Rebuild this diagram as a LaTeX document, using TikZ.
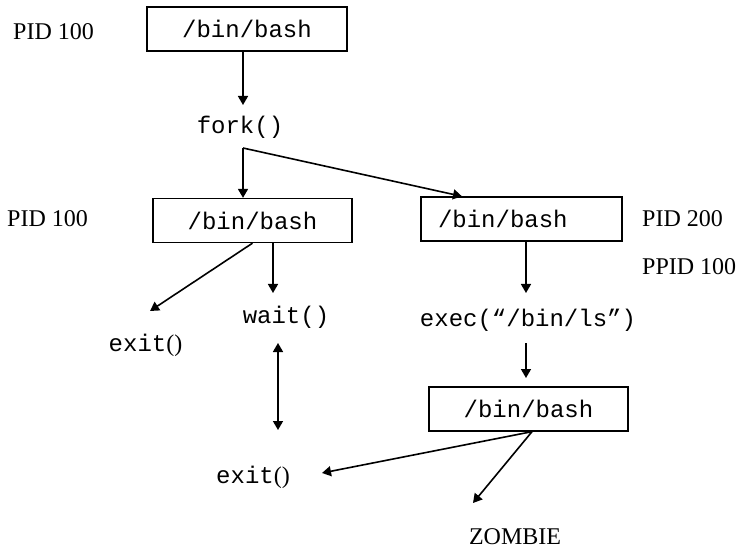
\documentclass[tikz,border=0pt]{standalone}
\usepackage{fontspec}
\setmainfont{Liberation Serif}
\setmonofont{Liberation Mono}
\usetikzlibrary{arrows.meta}
\begin{document}
\begin{tikzpicture}[x=1pt,y=-1pt,
  lab/.style={inner sep=0pt, font=\fontsize{24}{28}\selectfont},
  code/.style={inner sep=0pt, font=\fontsize{24}{28}\selectfont\ttfamily},
  procbox/.style={draw, line width=1.3pt, inner sep=0pt, minimum height=44pt,
    font=\fontsize{24}{28}\selectfont\ttfamily},
  arr/.style={line width=1.6pt, -{Triangle[length=9pt,width=10pt]}},
  arrboth/.style={line width=1.6pt, {Triangle[length=9pt,width=10pt]}-{Triangle[length=9pt,width=10pt]}}]
\useasboundingbox (0,0) rectangle (742,548);

% process boxes
\node[procbox, minimum width=200pt] (b1) at (247,29) {/bin/bash};
\node[procbox, minimum width=199pt] (b2) at (252.5,220.5) {/bin/bash};
\node[procbox, text width=167pt, inner xsep=17pt, align=left] (b3) at (521.5,219) {/bin/bash};
\node[procbox, minimum width=199pt] (b4) at (528.5,409) {/bin/bash};

% process ids
\node[lab, anchor=base west] (p1) at (13,40) {PID 100};
\node[lab, anchor=base west] (p2) at (7,227) {PID 100};
\node[lab, anchor=base west] (p3) at (642,227) {PID 200};
\node[lab, anchor=base west] (p4) at (642,275) {PPID 100};
\node[lab, anchor=base] (zb) at (515,544) {ZOMBIE};

% system calls
\node[code] (fk) at (240,127) {fork()};
\node[code] (wt) at (286,317) {wait()};
\node[code] (ex1) at (145.5,345) {exit\rmfamily()};
\node[code] (ex2) at (253,477) {exit\rmfamily()};
\node[code] (exc) at (528,320) {exec(“/bin/ls”)};

% arrow ends
\coordinate (t1) at (243,105);
\coordinate (sp) at (243,148);
\coordinate (t2) at (150,311);
\coordinate (t3) at (273,293);
\coordinate (d1) at (278,343);
\coordinate (d2) at (278,430);
\coordinate (t4) at (526,293);
\coordinate (s5) at (526,343);
\coordinate (t5) at (526,378);
\coordinate (t6) at (322,473);
\coordinate (t7) at (473,503);

% connectors
\draw[arr] ([xshift=-4pt]b1.south) -- (t1);
\draw[arr] (sp) -- (sp |- b2.north);
\draw[arr] (sp) -- ([xshift=-59.5pt]b3.north);
\draw[arr] (b2.south) -- (t2);
\draw[arr] ([xshift=20.5pt]b2.south) -- (t3);
\draw[arrboth] (d1) -- (d2);
\draw[arr] ([xshift=4.5pt]b3.south) -- (t4);
\draw[arr] (s5) -- (t5);
\draw[arr] ([xshift=3.5pt]b4.south) -- (t6);
\draw[arr] ([xshift=3.5pt]b4.south) -- (t7);
\end{tikzpicture}
\end{document}
